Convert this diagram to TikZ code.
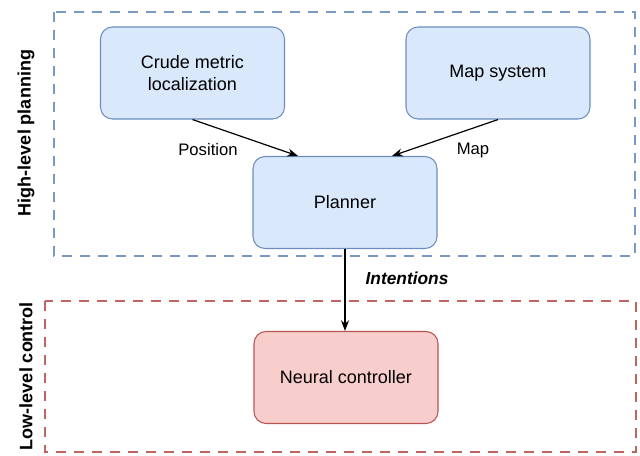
\documentclass[tikz,border=0pt]{standalone}
\usepackage{fontspec}
\setmainfont{Liberation Sans}
\usetikzlibrary{arrows.meta,calc}
\definecolor{bfill}{HTML}{DAE8FC}
\definecolor{bline}{HTML}{6C8EBF}
\definecolor{rfill}{HTML}{F8CECC}
\definecolor{rline}{HTML}{B85450}
\begin{document}
\begin{tikzpicture}[x=0.75pt,y=-0.75pt,
  txt/.style={font=\fontsize{12.5}{15}\selectfont},
  boxtxt/.style={font=\fontsize{13.5}{16.5}\selectfont},
  bluebox/.style={draw=bline,fill=bfill,rounded corners=9pt,line width=0.8pt,minimum width=138pt,minimum height=69pt,align=center,boxtxt},
  redbox/.style={draw=rline,fill=rfill,rounded corners=9pt,line width=0.8pt,minimum width=138pt,minimum height=69pt,align=center,boxtxt},
  bluedash/.style={draw=bline!90,line width=1.9pt,dash pattern=on 7.5pt off 6pt},
  reddash/.style={draw=rline!90,line width=1.9pt,dash pattern=on 7.5pt off 6pt},
  arr/.style={-{Stealth[length=8pt,width=6pt]},line width=0.9pt},
  side/.style={font=\fontsize{13.5}{15}\selectfont\bfseries,rotate=90}
]
\useasboundingbox (0,0) rectangle (640,455);
\draw[bluedash] (54,12) rectangle (635,256);
\draw[reddash] (45,301) rectangle (636,452);
\node[side] (hl) at (26,133) {High-level planning};
\node[side] (ll) at (26,376) {Low-level control};
\node[bluebox] (crude) at (192.5,73) {Crude metric\\localization};
\node[bluebox] (map) at (498,73) {Map system};
\node[bluebox] (planner) at (345,202.5) {Planner};
\node[redbox] (neural) at (346,377.5) {Neural controller};
\draw[arr] (crude.south) -- ($(planner.north)+(-47,0)$);
\draw[arr] (map.south) -- ($(planner.north)+(47,0)$);
\draw[arr] (planner.south) -- (planner.south |- neural.north);
\node[txt] (pos) at (208,150) {Position};
\node[txt] (maplbl) at (473,150) {Map};
\node[font=\fontsize{13}{15}\selectfont\bfseries\itshape] (int) at (407,278) {Intentions};
\end{tikzpicture}
\end{document}
